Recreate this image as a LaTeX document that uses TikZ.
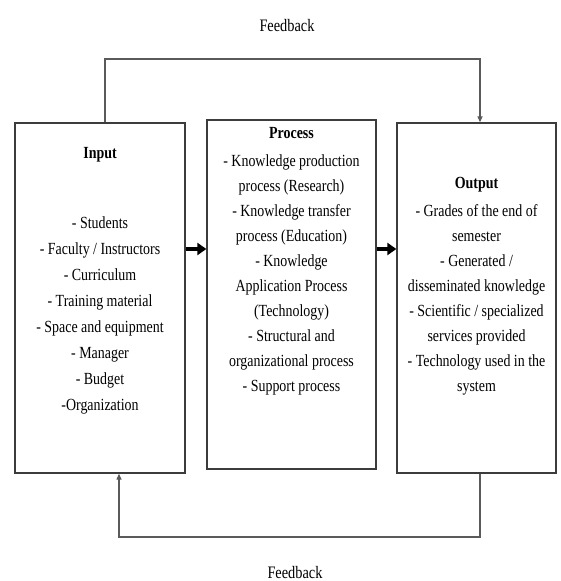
\documentclass[tikz,border=0pt]{standalone}
\usepackage{fontspec}
\setmainfont{Liberation Serif}[FakeStretch=0.82]
\usetikzlibrary{arrows.meta}
\definecolor{boxgray}{HTML}{3C3C3C}
\definecolor{linegray}{HTML}{5A5A5A}
\begin{document}
\begin{tikzpicture}[x=1pt,y=-1pt,
  box/.style={draw=boxgray, line width=1.3pt, inner sep=0pt},
  title/.style={font=\fontsize{17}{25}\selectfont\bfseries, anchor=base, inner sep=0pt},
  listA/.style={font=\fontsize{17}{26}\selectfont, align=center, anchor=base, inner sep=0pt},
  listB/.style={font=\fontsize{17}{25}\selectfont, align=center, anchor=base, inner sep=0pt},
  fbtext/.style={font=\fontsize{17.5}{20}\selectfont, anchor=base, inner sep=0pt},
  flow/.style={line width=4pt, black, -{Triangle[length=9pt,width=12pt]}},
  fb/.style={draw=linegray, line width=1.2pt, -{Triangle[length=6pt,width=5pt]}}]
\useasboundingbox (0,0) rectangle (560,581);
% boxes
\node[box, minimum width=170pt, minimum height=350pt] (in) at (100,298) {};
\node[box, minimum width=169pt, minimum height=349pt] (pr) at (291.5,294.5) {};
\node[box, minimum width=159pt, minimum height=350pt] (out) at (476.5,298) {};
% texts (base anchor = baseline of last line)
\node[title] (inT) at (100,158) {Input};
\node[listA] (inL) at (100,410) {- Students\\- Faculty / Instructors\\- Curriculum\\- Training material\\- Space and equipment\\- Manager\\- Budget\\-Organization};
\node[title] (prT) at (291.5,138) {Process};
\node[listB] (prL) at (291.5,391) {- Knowledge production\\process (Research)\\- Knowledge transfer\\process (Education)\\- Knowledge\\Application Process\\(Technology)\\- Structural and\\organizational process\\- Support process};
\node[title] (outT) at (476.5,188) {Output};
\node[listB] (outL) at (476.5,391) {- Grades of the end of\\semester\\- Generated /\\disseminated knowledge\\- Scientific / specialized\\services provided\\- Technology used in the\\system};
% flow arrows
\coordinate (arrY) at (0,249);
\draw[flow] (in.east |- arrY) -- (pr.west |- arrY);
\draw[flow] (pr.east |- arrY) -- (out.west |- arrY);
% feedback top
\coordinate (ft1) at (105,59);
\coordinate (ft2) at (480,59);
\draw[fb] (in.north -| ft1) -- (ft1) -- (ft2) -- (out.north -| ft2);
\node[fbtext] (fbT) at (287,31) {Feedback};
% feedback bottom
\coordinate (fb1) at (480,537);
\coordinate (fb2) at (119,537);
\draw[fb] (out.south -| fb1) -- (fb1) -- (fb2) -- (in.south -| fb2);
\node[fbtext] (fbB) at (295,578) {Feedback};
\end{tikzpicture}
\end{document}
